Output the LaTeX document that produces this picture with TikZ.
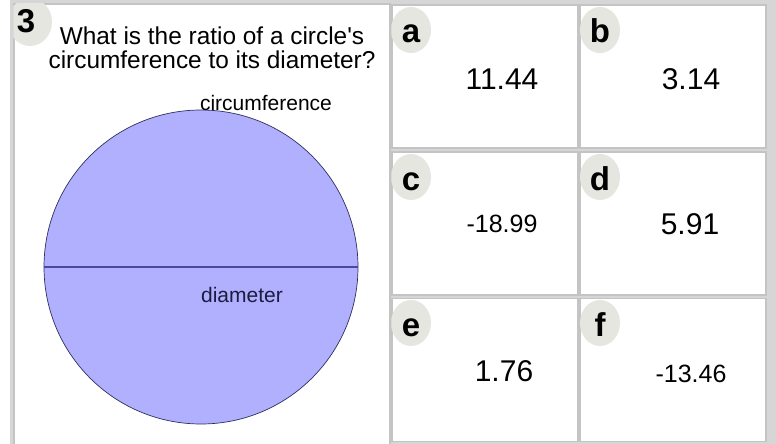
\documentclass[tikz,border=0pt]{standalone}
\usepackage{fontspec}
\setmainfont{Liberation Sans}
\usepackage{tikz}
\usetikzlibrary{shapes.geometric}
\definecolor{frame}{HTML}{D6D6D6}
\definecolor{edge}{HTML}{C4C4C4}
\definecolor{badge}{HTML}{E6E6E0}
\definecolor{disc}{HTML}{B0B0FF}
\definecolor{rim}{HTML}{30305E}
\definecolor{chord}{HTML}{4848A0}
\definecolor{ink}{HTML}{1C1C40}

\begin{document}
\begin{tikzpicture}[x=1pt,y=-1pt,
  panel/.style={draw=edge,fill=white,line width=1.2pt,inner sep=0pt},
  cell/.style={panel,minimum width=186pt,minimum height=143pt},
  tag/.style={ellipse,fill=badge,minimum width=40pt,minimum height=46pt,inner sep=0pt},
  key/.style={font=\fontsize{33}{33}\selectfont\bfseries,text height=26pt,text depth=0pt,inner sep=0pt},
  big/.style={font=\fontsize{30}{30}\selectfont},
  neg/.style={font=\fontsize{25}{25}\selectfont},
  lbl/.style={font=\fontsize{21}{21}\selectfont},
]
\useasboundingbox (0,0) rectangle (776,444);
\fill[frame] (10,0) rectangle (776,444);

% question panel
\node[panel,minimum width=376pt,minimum height=444pt] (qp) at (202,226) {};
\begin{scope}
\clip (qp.north west) rectangle (qp.south east);
\node[tag,minimum width=44pt,minimum height=48pt] (t3) at (30,22) {};
\end{scope}
\node[key] (k3) at (26,20) {3};
\node[font=\fontsize{24.4}{24}\selectfont,align=center] (qtext) at (212,48)
  {What is the ratio of a circle\textquotesingle s\\circumference to its diameter?};

% circle with its diameter
\node[circle,draw=rim,fill=disc,line width=0.7pt,minimum size=314pt,inner sep=0pt] (disc) at (201,267) {};
\draw[chord,line width=1.3pt] (disc.west) -- (disc.east);
\node[lbl,anchor=base] (circ) at (266,110) {circumference};
\node[lbl,ink,anchor=base] (diam) at (242,302) {diameter};

% answer cells
\node[cell] (ca) at (485,76.5) {};
\node[cell] (cb) at (673,76.5) {};
\node[cell] (cc) at (485,223.5) {};
\node[cell] (cd) at (673,223.5) {};
\node[cell] (ce) at (485,370) {};
\node[cell] (cf) at (673,370) {};

% badges, cut off by the cell edge
\begin{scope}
\clip (ca.north west) rectangle (ca.south east);
\node[tag] (ta) at (411,30) {};
\end{scope}
\begin{scope}
\clip (cb.north west) rectangle (cb.south east);
\node[tag] (tb) at (600,30) {};
\end{scope}
\begin{scope}
\clip (cc.north west) rectangle (cc.south east);
\node[tag] (tc) at (411,177) {};
\end{scope}
\begin{scope}
\clip (cd.north west) rectangle (cd.south east);
\node[tag] (td) at (600,177) {};
\end{scope}
\begin{scope}
\clip (ce.north west) rectangle (ce.south east);
\node[tag] (te) at (411,323) {};
\end{scope}
\begin{scope}
\clip (cf.north west) rectangle (cf.south east);
\node[tag] (tf) at (600,323) {};
\end{scope}
\node[key] (ka) at (ta) {a};
\node[key] (kb) at (tb) {b};
\node[key] (kc) at (tc) {c};
\node[key] (kd) at (td) {d};
\node[key] (ke) at (te) {e};
\node[key] (kf) at (tf) {f};

% answers
\node[big] (va) at (502,79) {11.44};
\node[big] (vb) at (691,79) {3.14};
\node[neg] (vc) at (502,224) {-18.99};
\node[big] (vd) at (690,224) {5.91};
\node[big] (ve) at (504,371) {1.76};
\node[neg] (vf) at (691,374) {-13.46};
\end{tikzpicture}
\end{document}
